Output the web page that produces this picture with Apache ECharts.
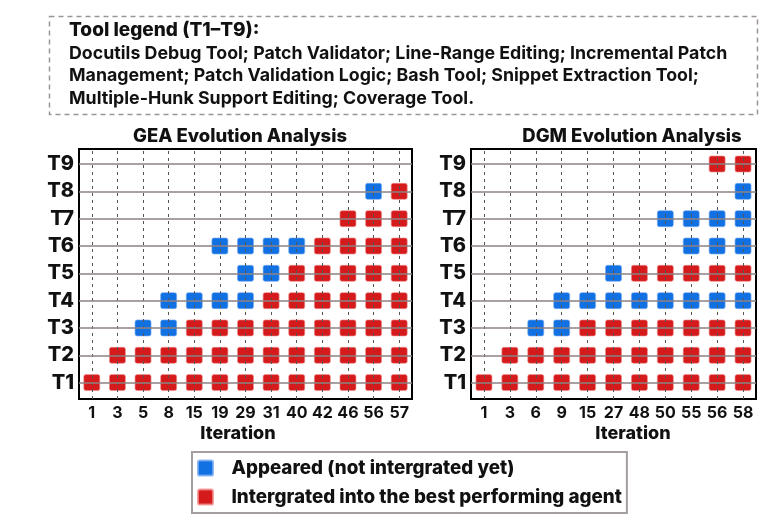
<!DOCTYPE html>
<html><head><meta charset="utf-8">
<script src="https://cdn.jsdelivr.net/npm/echarts@6/dist/echarts.min.js"></script>
<style>html,body{margin:0;padding:0;background:#fff}#c{width:782px;height:532px}</style>
</head><body><div id="c"></div><script>
const tools = ['Docutils Debug Tool', 'Patch Validator', 'Line-Range Editing', 'Incremental Patch Management', 'Patch Validation Logic', 'Bash Tool', 'Snippet Extraction Tool', 'Multiple-Hunk Support Editing', 'Coverage Tool'];
const toolLabels = ['T1', 'T2', 'T3', 'T4', 'T5', 'T6', 'T7', 'T8', 'T9'];
const geaIterations = ['1', '3', '5', '8', '15', '19', '29', '31', '40', '42', '46', '56', '57'];
const dgmIterations = ['1', '3', '6', '9', '15', '27', '48', '50', '55', '56', '58'];
// 0 = absent, 1 = appeared (not integrated), 2 = integrated; rows T1..T9
const geaStatus = [
  [2,2,2,2,2,2,2,2,2,2,2,2,2],
  [0,2,2,2,2,2,2,2,2,2,2,2,2],
  [0,0,1,1,2,2,2,2,2,2,2,2,2],
  [0,0,0,1,1,1,1,2,2,2,2,2,2],
  [0,0,0,0,0,0,1,1,2,2,2,2,2],
  [0,0,0,0,0,1,1,1,1,2,2,2,2],
  [0,0,0,0,0,0,0,0,0,0,2,2,2],
  [0,0,0,0,0,0,0,0,0,0,0,1,2],
  [0,0,0,0,0,0,0,0,0,0,0,0,0]
];
const dgmStatus = [
  [2,2,2,2,2,2,2,2,2,2,2],
  [0,2,2,2,2,2,2,2,2,2,2],
  [0,0,1,1,2,2,2,2,2,2,2],
  [0,0,0,1,1,1,1,1,1,1,1],
  [0,0,0,0,0,1,2,2,2,2,2],
  [0,0,0,0,0,0,0,0,1,1,1],
  [0,0,0,0,0,0,0,1,1,1,1],
  [0,0,0,0,0,0,0,0,0,0,1],
  [0,0,0,0,0,0,0,0,0,2,2]
];
const panelTitles = ['GEA Evolution Analysis', 'DGM Evolution Analysis'];
const xAxisTitle = 'Iteration';
const legendTitle = 'Tool legend (T1\u2013T9):';
const statusNames = ['Appeared (not intergrated yet)', 'Intergrated into the best performing agent'];

const BLUE = '#1170e2';
const RED = '#d51a1b';
const FONT = 'Inter';
const SQUARE = 'path://M2,0 H14 Q16,0 16,2 V14 Q16,16 14,16 H2 Q0,16 0,14 V2 Q0,0 2,0 Z';

function points(status, code) {
  const out = [];
  status.forEach((row, r) => row.forEach((s, c) => { if (s === code) out.push([c, r + 1]); }));
  return out;
}

const chart = echarts.init(document.getElementById('c'), null, { renderer: 'canvas' });

const grids = [
  { left: 79, top: 149, width: 333, height: 250 },
  { left: 471, top: 149, width: 285, height: 250 }
];
const iters = [geaIterations, dgmIterations];
const stats = [geaStatus, dgmStatus];

const xAxes = iters.map((it, i) => ({
  type: 'category', gridIndex: i, data: it, boundaryGap: true,
  axisLine: { show: false }, axisTick: { show: false }, splitLine: { show: false },
  axisLabel: { interval: 0, margin: 6, color: '#111', fontFamily: FONT, fontWeight: 700, fontSize: 16 }
}));
const yAxes = iters.map((it, i) => ({
  type: 'value', gridIndex: i, min: 0.4, max: 9.55,
  axisLine: { show: false }, axisTick: { show: false }, splitLine: { show: false },
  axisLabel: {
    customValues: toolLabels.map((t, k) => k + 1),
    formatter: v => toolLabels[Math.round(v) - 1] || '',
    margin: 5, color: '#111', fontFamily: FONT, fontWeight: 800, fontSize: 20
  }
}));

const series = [];
iters.forEach((it, i) => {
  series.push({
    type: 'line', xAxisIndex: i, yAxisIndex: i, data: [], silent: true, z: 1,
    markLine: {
      silent: true, symbol: 'none', animation: false, label: { show: false },
      emphasis: { disabled: true },
      data: [
        ...it.map((_, c) => ({ xAxis: c, lineStyle: { color: '#555', width: 1, type: [3, 4] } })),
        ...toolLabels.map((_, k) => ({ yAxis: k + 1, lineStyle: { color: '#8c8282', width: 1.5, type: 'solid' } }))
      ]
    }
  });
  series.push({
    name: statusNames[0], type: 'scatter', xAxisIndex: i, yAxisIndex: i, z: 3,
    symbol: SQUARE, symbolSize: 16, data: points(stats[i], 1),
    itemStyle: { color: BLUE, borderColor: 'rgba(120,170,240,0.8)', borderWidth: 0.8, opacity: 1 }
  });
  series.push({
    name: statusNames[1], type: 'scatter', xAxisIndex: i, yAxisIndex: i, z: 3,
    symbol: SQUARE, symbolSize: 16, data: points(stats[i], 2),
    itemStyle: { color: RED, borderColor: 'rgba(240,140,140,0.8)', borderWidth: 0.8, opacity: 1 }
  });
});

const titleStyle = { color: '#111', fontFamily: FONT, fontWeight: 800, fontSize: 18.5 };
const axisTitleStyle = { color: '#111', fontFamily: FONT, fontWeight: 800, fontSize: 18 };

chart.setOption({
  animation: false,
  backgroundColor: '#fff',
  title: [
    { text: panelTitles[0], left: 240, top: 127, textAlign: 'center', padding: 0, textStyle: titleStyle },
    { text: panelTitles[1], left: 632, top: 127, textAlign: 'center', padding: 0, textStyle: titleStyle },
    { text: xAxisTitle, left: 238, top: 425, textAlign: 'center', padding: 0, textStyle: axisTitleStyle },
    { text: xAxisTitle, left: 633, top: 425, textAlign: 'center', padding: 0, textStyle: axisTitleStyle }
  ],
  grid: grids.map(g => Object.assign({ show: true, borderColor: '#000', borderWidth: 2, backgroundColor: 'transparent' }, g)),
  xAxis: xAxes,
  yAxis: yAxes,
  legend: {
    data: statusNames, orient: 'vertical', left: 192, top: 452,
    icon: SQUARE, itemWidth: 16, itemHeight: 15, itemGap: 9,
    padding: [6, 5, 6, 5],
    borderColor: '#a59e9e', borderWidth: 2, borderRadius: 0,
    selectedMode: false,
    textStyle: { color: '#111', fontFamily: FONT, fontWeight: 800, fontSize: 18.8, lineHeight: 20, padding: [0, 0, 0, 13] }
  },
  graphic: [
    { type: 'rect', left: 47, top: 14, shape: { width: 708, height: 98 },
      style: { fill: 'none', stroke: '#9a9494', lineWidth: 1.5, lineDash: [5, 4] }, silent: true },
    { type: 'text', left: 69, top: 21, silent: true,
      style: { text: legendTitle, fill: '#111', font: '800 19px Inter' } },
    { type: 'text', left: 69, top: 42, silent: true,
      style: { text: tools.join('; ') + '.', width: 685, overflow: 'break', lineHeight: 22.5,
               fill: '#111', font: '700 17.8px Inter' } }
  ],
  series: series
});
</script></body></html>
